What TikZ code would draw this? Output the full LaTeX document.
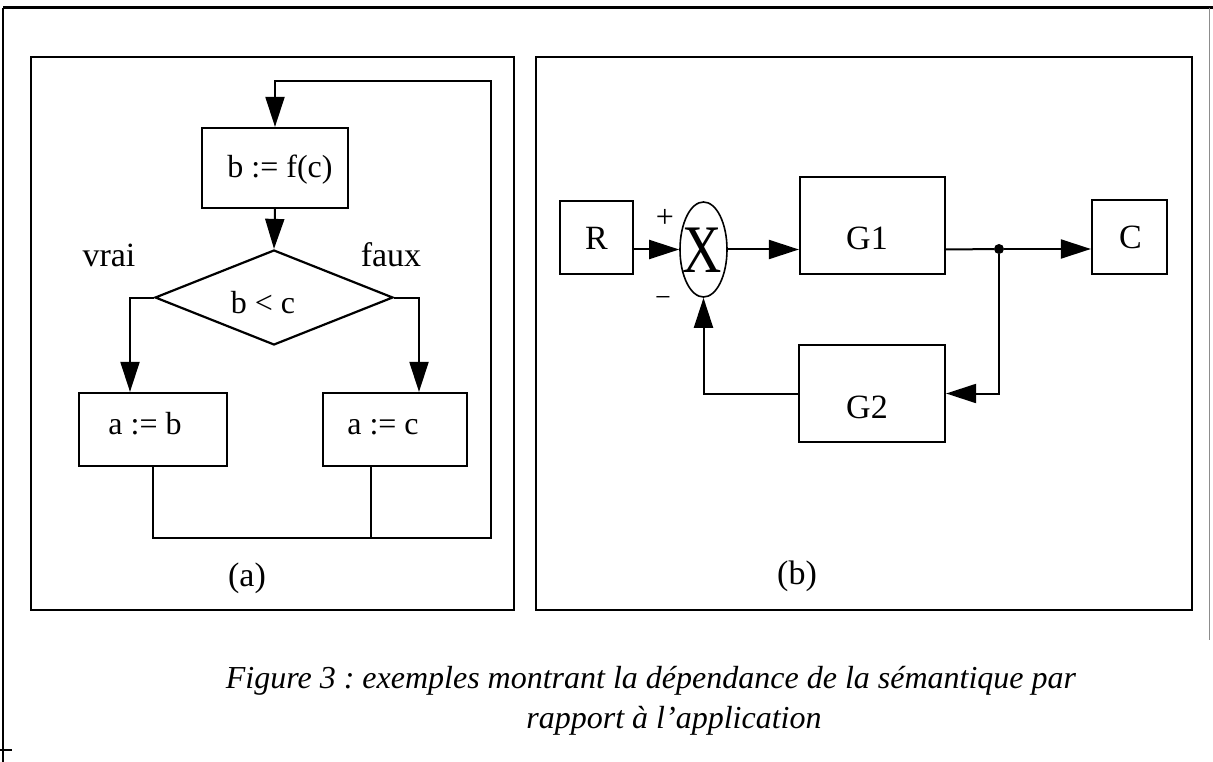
\documentclass[tikz,border=0pt]{standalone}
\usepackage{fontspec}
\setmainfont{Liberation Serif}
\frenchspacing
\usetikzlibrary{arrows.meta,shapes.geometric}
\begin{document}
\begin{tikzpicture}[x=1pt,y=-1pt,
  frame/.style={line width=2.8pt},
  blk/.style={draw,line width=2.2pt,rectangle,inner sep=0pt},
  wire/.style={line width=2pt},
  arr/.style={line width=2pt,-{Triangle[length=30pt,width=19pt]}},
  txt/.style={inner sep=0pt,anchor=base,font=\fontsize{32}{38}\selectfont},
  lbl/.style={inner sep=0pt,anchor=base,font=\fontsize{34}{40}\selectfont},
  captxt/.style={inner sep=0pt,anchor=base,font=\fontsize{32}{38}\selectfont\itshape}]
\useasboundingbox (0,0) rectangle (1213,762);
% outer frame
\draw[line width=3pt] (3,8) -- (1213,8);
\draw[line width=1.4pt] (3,8) -- (3,762);
\draw[line width=0.8pt,black!45] (1209,8) -- (1209,640);
\draw[line width=1.2pt] (0,750) -- (12,750);
% panels
\draw[frame] (31,57) rectangle (514,610);
\draw[frame] (536,57) rectangle (1192,610);
% ---------- panel (a)
\node[blk,minimum width=146,minimum height=80] (bf) at (275,168) {};
\node[txt] (bft) at (280,178) {b := f(c)};
\node[draw,diamond,line width=2.2pt,minimum width=238,minimum height=95,inner sep=0pt] (dia) at (274,297.5) {};
\node[txt] (diat) at (263,313) {b < c};
\node[blk,minimum width=148,minimum height=73] (ab) at (153,429.5) {};
\node[txt] (abt) at (145,434) {a := b};
\node[blk,minimum width=144,minimum height=73] (ac) at (395,429.5) {};
\node[txt] (act) at (383,434) {a := c};
\node[lbl] (vrai) at (109,266) {vrai};
\node[lbl] (faux) at (391,266) {faux};
\node[lbl] (la) at (247,586) {(a)};
\coordinate (jr) at (491,538);
\coordinate (jt) at (491,81);
\draw[arr] (bf.south) -- (dia.north);
\draw[arr] (dia.west) -| ([xshift=-23pt]ab.north);
\draw[arr] (dia.east) -| ([xshift=24pt]ac.north);
\draw[arr] (ab.south) |- (jr) -- (jt) -| (bf.north);
\draw[wire] ([xshift=-24pt]ac.south) -- ([xshift=-24pt]ac.south |- jr);
% ---------- panel (b)
\node[blk,minimum width=73,minimum height=73] (r) at (596.5,237.5) {};
\node[lbl] (rt) at (596.5,250) {R};
\node[draw,ellipse,line width=1.6pt,minimum width=47,minimum height=95,inner sep=0pt] (sum) at (703.5,249.5) {};
\node[inner sep=0pt,font=\fontsize{68}{68}\selectfont] (sx) at (702,250) {\scalebox{0.8}[1]{X}};
\node[inner sep=0pt,font=\fontsize{32}{32}\selectfont] (plus) at (665,218) {+};
\node[inner sep=0pt,font=\fontsize{28}{28}\selectfont] (minus) at (663,302) {−};
\node[blk,minimum width=145,minimum height=97] (g1) at (872.5,225.5) {};
\node[lbl] (g1t) at (867,250) {G1};
\node[blk,minimum width=75,minimum height=74] (c) at (1129.5,237) {};
\node[lbl] (ct) at (1130.5,249) {C};
\node[blk,minimum width=146,minimum height=97] (g2) at (872,393.5) {};
\node[lbl] (g2t) at (867,418) {G2};
\node[circle,fill,inner sep=0pt,minimum size=10pt] (dot) at (999,249) {};
\node[lbl] (lb) at (797,584) {(b)};
\draw[arr] (r.east |- sum) -- (sum.west);
\draw[arr] (sum.east) -- (sum.east -| g1.west);
\draw[wire] (sum.east -| g1.east) -- (dot);
\draw[arr] (dot) -- (dot -| c.west);
\draw[arr] (dot) |- (g2.east);
\draw[arr] (g2.west) -| (sum.south);
% caption
\node[captxt] (cap1) at (651,688) {Figure 3 : exemples montrant la dépendance de la sémantique par};
\node[captxt] (cap2) at (674,728) {rapport à l’application};
\end{tikzpicture}
\end{document}
